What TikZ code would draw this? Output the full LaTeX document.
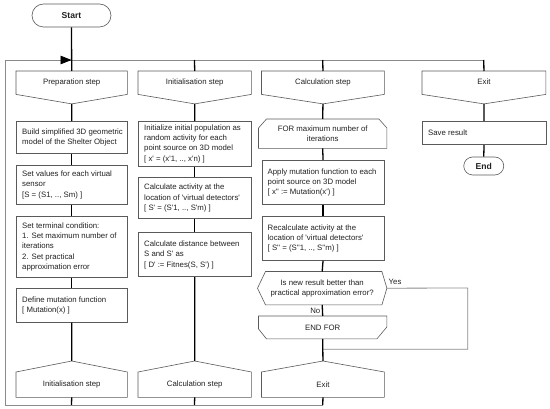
\documentclass[tikz,border=0pt]{standalone}
\usepackage{fontspec}
\setmainfont{Liberation Sans}
\usetikzlibrary{calc,arrows.meta}
\newcommand\qs{\textquotesingle}
\definecolor{shapegray}{HTML}{5A5A5A}
\definecolor{framegray}{HTML}{8A8A8A}
\definecolor{txt}{HTML}{222222}
% box with left-aligned text: name, x, y, width, height, text
\newcommand\bx[6]{%
  \node[box, minimum width=#4pt, minimum height=#5pt] (#1) at (#2,#3) {};
  \node[btext] (#1text) at ($(#1.west)+(6,0)$) {#6};}
\begin{document}
\begin{tikzpicture}[x=1pt,y=-1pt,
  every node/.style={font=\fontsize{7.8}{10.3}\selectfont, text=txt},
  box/.style={draw=shapegray, line width=0.6pt, fill=white, anchor=north west, inner sep=0pt},
  btext/.style={anchor=west, inner sep=0pt, align=left},
  plain/.style={draw=none, anchor=north west, inner sep=0pt, align=center},
  outline/.style={draw=shapegray, line width=0.6pt, fill=white},
  term/.style={draw=shapegray, line width=0.6pt, fill=white, rounded corners=#1,
    font=\fontsize{8.6}{10}\selectfont\bfseries, inner sep=0pt},
  conn/.style={draw=black, line width=1.3pt},
  frame/.style={draw=framegray, line width=0.8pt},
  lbl/.style={inner sep=0pt}
]
\useasboundingbox (0,0) rectangle (550,409);

% frame coordinates
\coordinate (tl) at (5,60);
\coordinate (bl) at (5,405);
\coordinate (t1) at (71.5,60);
\coordinate (t2) at (194.5,60);
\coordinate (t3) at (322.75,60);
\coordinate (t4) at (483.75,60);
\coordinate (bt1) at (71.5,405);
\coordinate (bt2) at (194.5,405);
\coordinate (bt3) at (322.75,405);

% start
\node[term=11.5pt, minimum width=79pt, minimum height=23pt] (start) at (71.5,15.5) {Start};

% headers
\node[plain, minimum width=111pt, minimum height=23pt] (h1) at (16,71) {};
\node[plain, minimum width=113pt, minimum height=23pt] (h2) at (138,71) {};
\node[plain, minimum width=122.5pt, minimum height=23pt] (h3) at (261.5,71) {};
\node[plain, minimum width=123.5pt, minimum height=23pt] (h4) at (422,71) {};
\foreach \h/\t in {h1/Preparation step, h2/Initialisation step, h3/Calculation step, h4/Exit}{
  \draw[outline] (\h.north west) -- (\h.north east) -- (\h.south east)
     -- ($(\h.south)+(0,9.5)$) coordinate (\h tip) -- (\h.south west) -- cycle;
  \node[lbl] at ($(\h.center)+(0,-0.5)$) {\t};
}

% footers
\node[plain, minimum width=111pt, minimum height=25pt] (f1) at (16,372) {};
\node[plain, minimum width=113pt, minimum height=25pt] (f2) at (138,372) {};
\node[plain, minimum width=122.5pt, minimum height=25pt] (f3) at (261.5,372) {};
\foreach \f/\t in {f1/Initialisation step, f2/Calculation step, f3/Exit}{
  \draw[outline] (\f.south west) -- (\f.north west) -- ($(\f.north)+(0,-11)$) coordinate (\f tip)
     -- (\f.north east) -- (\f.south east) -- cycle;
  \node[lbl] at (\f.center) {\t};
}

% column 1
\bx{b11}{16}{121}{111}{32}{Build simplified 3D geometric\\model of the Shelter Object}
\bx{b12}{16}{165}{111}{39}{Set values for each virtual\\sensor\\{}[S = (S1, .., Sm) ]}
\bx{b13}{16}{216}{111}{61}{Set terminal condition:\\1. Set maximum number of\\iterations\\2. Set practical\\approximation error}
\bx{b14}{16}{288}{111}{34}{Define mutation function\\{}[ Mutation(x) ]}

% column 2
\bx{b21}{138}{121}{113}{45}{Initialize initial population as\\random activity for each\\point source on 3D model\\{}[ x\qs{} = (x\qs1, .., x\qs n) ]}
\bx{b22}{138}{177.5}{113}{40.5}{Calculate activity at the\\location of \qs virtual detectors\qs\\{}[ S\qs{} = (S\qs1, .., S\qs m) ]}
\bx{b23}{138}{232.5}{113}{44}{Calculate distance between\\S and S\qs{} as\\{}[ D\qs{} := Fitnes(S, S\qs) ]}

% column 3
\node[plain, minimum width=128pt, minimum height=29pt] (for) at (258.5,119) {};
\draw[outline] (for.south west) -- ($(for.north west)+(0,9)$) -- ($(for.north west)+(8,0)$)
  -- ($(for.north east)+(-8,0)$) -- ($(for.north east)+(0,9)$) -- (for.south east) -- cycle;
\node[lbl, align=center] at (for.center) {FOR maximum number of\\iterations};

\bx{b31}{261.5}{160}{122.5}{44}{Apply mutation function to each\\point source on 3D model\\{}[ x\qs\qs{} := Mutation(x\qs) ]}
\bx{b32}{261.5}{216}{122.5}{44}{Recalculate activity at the\\location of \qs virtual detectors\qs\\{}[ S\qs\qs{} = (S\qs\qs1, .., S\qs\qs m) ]}

\node[plain, minimum width=129pt, minimum height=33pt] (dec) at (257.5,271.5) {};
\draw[outline] (dec.west) -- ($(dec.north west)+(8,0)$) -- ($(dec.north east)+(-5,0)$)
  -- (dec.east) -- ($(dec.south east)+(-5,0)$) -- ($(dec.south west)+(8,0)$) -- cycle;
\node[lbl, align=center] at (dec.center) {Is new result better than\\practical approximation error?};

\node[plain, minimum width=128pt, minimum height=22.5pt] (endfor) at (258.5,316) {};
\draw[outline] (endfor.north west) -- (endfor.north east) -- ($(endfor.south east)+(0,-12)$)
  -- ($(endfor.south east)+(-10,0)$) -- ($(endfor.south west)+(8,0)$) -- ($(endfor.south west)+(0,-10)$) -- cycle;
\node[lbl] at (endfor.center) {END FOR};

% column 4
\bx{b41}{422}{121}{123.5}{23.5}{Save result}
\node[term=9pt, minimum width=40pt, minimum height=18pt] (end) at (483.75,166) {End};

% frame
\draw[frame] (bt3) -- (bl) -- (tl) -- (t4);
\path[draw=framegray, line width=0.8pt, -{Triangle[length=11pt,width=8.5pt,color=black]}] (tl) -- (t1);
\coordinate (yes1) at (467.7,288);
\coordinate (yes2) at (467.7,349.3);
\coordinate (yes3) at (322.75,349.3);
\draw[frame] (dec.east) -- (yes1) -- (yes2) -- (yes3);

% connectors
\draw[conn] (start.south) -- (h1.north);
\draw[conn] (t2) -- (h2.north);
\draw[conn] (t3) -- (h3.north);
\draw[conn] (t4) -- (h4.north);

\draw[conn] (h1tip) -- (b11.north);
\draw[conn] (b11.south) -- (b12.north);
\draw[conn] (b12.south) -- (b13.north);
\draw[conn] (b13.south) -- (b14.north);
\draw[conn] (b14.south) -- (f1tip);

\draw[conn] (h2tip) -- (b21.north);
\draw[conn] (b21.south) -- (b22.north);
\draw[conn] (b22.south) -- (b23.north);
\draw[conn] (b23.south) -- (f2tip);

\draw[conn] (h3tip) -- (for.north);
\draw[conn] (for.south) -- (b31.north);
\draw[conn] (b31.south) -- (b32.north);
\draw[conn] (b32.south) -- (dec.north);
\draw[conn] (dec.south) -- (endfor.north);
\draw[conn] (endfor.south) -- (f3tip);

\draw[conn] (h4tip) -- (b41.north);
\draw[conn] (b41.south) -- (end.north);

\draw[conn] (f1.south) -- (bt1);
\draw[conn] (f2.south) -- (bt2);
\draw[conn] (f3.south) -- (bt3);

% labels
\node[lbl, anchor=east] (no) at (320.5,310.5) {No};
\node[lbl, anchor=west] (yes) at (388.5,282) {Yes};
\end{tikzpicture}
\end{document}
